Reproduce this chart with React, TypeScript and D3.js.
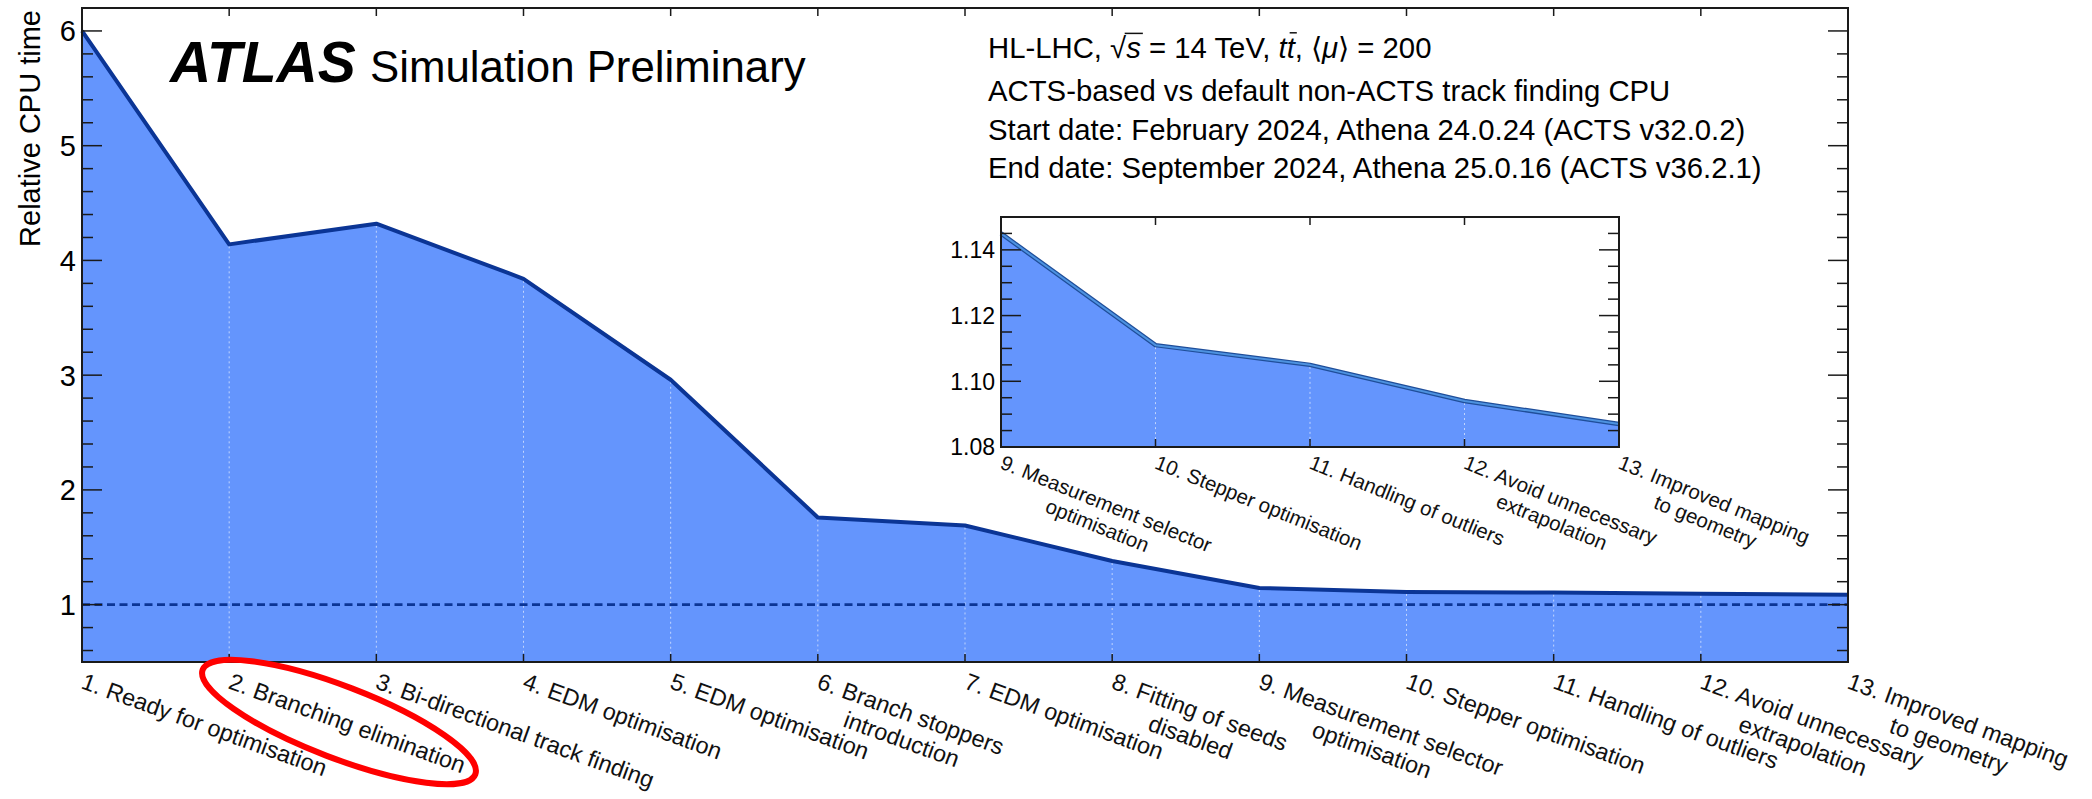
import React, { useRef, useEffect } from 'react';
import * as d3 from 'd3';

const W = 2092;
const H = 799;
const FONT = "'Liberation Sans', Arial, Helvetica, sans-serif";

// optimisation steps (x categories)
const steps = [
  '1. Ready for optimisation',
  '2. Branching elimination',
  '3. Bi-directional track finding',
  '4. EDM optimisation',
  '5. EDM optimisation',
  '6. Branch stoppers\nintroduction',
  '7. EDM optimisation',
  '8. Fitting of seeds\ndisabled',
  '9. Measurement selector\noptimisation',
  '10. Stepper optimisation',
  '11. Handling of outliers',
  '12. Avoid unnecessary\nextrapolation',
  '13. Improved mapping\nto geometry',
];

// relative CPU time, ACTS vs default
const cpuTime = [6.0, 4.14, 4.32, 3.84, 2.96, 1.76, 1.69, 1.38, 1.145, 1.111, 1.105, 1.094, 1.087];

// zoomed inset: last five steps
const insetSteps = steps.slice(8);
const insetTime = cpuTime.slice(8);

const yTicks = [1, 2, 3, 4, 5, 6];
const insetTicks = [1.08, 1.1, 1.12, 1.14];

const infoLines = [
  'ACTS-based vs default non-ACTS track finding CPU',
  'Start date: February 2024, Athena 24.0.24 (ACTS v32.0.2)',
  'End date: September 2024, Athena 25.0.16 (ACTS v36.2.1)',
];

const FILL = '#6495fd';
const LINE = '#0b3595';

function drawStepLabels(g, labels, x, y0, fontSize, angle) {
  labels.forEach(lab => {
    const [l1, l2] = lab.split('\n');
    const t = g.append('g')
      .attr('transform', `translate(${x(lab) - 2},${y0}) rotate(${angle})`)
      .attr('font-size', fontSize);
    const t1 = t.append('text').attr('x', 0).attr('y', 0).text(l1);
    if (l2) {
      const w1 = t1.node().getComputedTextLength();
      t.append('text')
        .attr('x', w1 / 2)
        .attr('y', fontSize * 1.15)
        .attr('text-anchor', 'middle')
        .text(l2);
    }
  });
}

function drawYTicks(g, y, left, right, majors, minors, fmt, fontSize) {
  majors.forEach(v => {
    g.append('line').attr('x1', left).attr('x2', left + 20).attr('y1', y(v)).attr('y2', y(v));
    g.append('line').attr('x1', right).attr('x2', right - 20).attr('y1', y(v)).attr('y2', y(v));
    g.append('text')
      .attr('x', left - 6)
      .attr('y', y(v) + fontSize * 0.36)
      .attr('text-anchor', 'end')
      .attr('font-size', fontSize)
      .attr('stroke', 'none')
      .text(fmt(v));
  });
  minors.forEach(v => {
    g.append('line').attr('x1', left).attr('x2', left + 11).attr('y1', y(v)).attr('y2', y(v));
    g.append('line').attr('x1', right).attr('x2', right - 11).attr('y1', y(v)).attr('y2', y(v));
  });
}

export default function App() {
  const svgRef = useRef(null);

  useEffect(() => {
    const svg = d3.select(svgRef.current);
    svg.selectAll('*').remove();
    svg.attr('font-family', FONT);

    // ---------- main plot ----------
    const M = { left: 82, right: 1848, top: 8, bottom: 662 };
    const x = d3.scalePoint().domain(steps).range([M.left, M.right]);
    const y = d3.scaleLinear().domain([0.5, 6.2]).range([M.bottom, M.top]);

    const area = d3.area()
      .x((d, i) => x(steps[i]))
      .y0(y(0.5))
      .y1(d => y(d));
    const line = d3.line()
      .x((d, i) => x(steps[i]))
      .y(d => y(d));

    svg.append('path').attr('d', area(cpuTime)).attr('fill', FILL);

    // dotted guides under the curve
    cpuTime.forEach((v, i) => {
      if (i === 0 || i === cpuTime.length - 1) return;
      svg.append('line')
        .attr('x1', x(steps[i])).attr('x2', x(steps[i]))
        .attr('y1', y(v) + 2).attr('y2', M.bottom)
        .attr('stroke', 'rgba(255,255,255,0.6)')
        .attr('stroke-width', 1)
        .attr('stroke-dasharray', '2,3');
    });

    svg.append('line')
      .attr('x1', M.left).attr('x2', M.right)
      .attr('y1', y(1)).attr('y2', y(1))
      .attr('stroke', LINE)
      .attr('stroke-width', 2.6)
      .attr('stroke-dasharray', '8,4.5');

    svg.append('path')
      .attr('d', line(cpuTime))
      .attr('fill', 'none')
      .attr('stroke', LINE)
      .attr('stroke-width', 4)
      .attr('stroke-linejoin', 'round');

    const axes = svg.append('g').attr('stroke', '#1a1a1a').attr('stroke-width', 1.5);
    steps.slice(1, -1).forEach(s => {
      axes.append('line').attr('x1', x(s)).attr('x2', x(s)).attr('y1', M.bottom).attr('y2', M.bottom - 8);
      axes.append('line').attr('x1', x(s)).attr('x2', x(s)).attr('y1', M.top).attr('y2', M.top + 8);
    });
    const minorMain = d3.range(0.6, 6.21, 0.2).filter(v => Math.abs(v - Math.round(v)) > 0.01);
    drawYTicks(axes, y, M.left, M.right, yTicks, minorMain, d3.format('d'), 29);
    axes.append('rect')
      .attr('x', M.left).attr('y', M.top)
      .attr('width', M.right - M.left).attr('height', M.bottom - M.top)
      .attr('fill', 'none').attr('stroke-width', 2);

    drawStepLabels(svg.append('g').attr('fill', '#111'), steps, x, M.bottom + 26, 23.4, 20);

    svg.append('text')
      .attr('transform', `translate(40,10) rotate(-90)`)
      .attr('text-anchor', 'end')
      .attr('font-size', 29)
      .text('Relative CPU time');

    // ---------- labels ----------
    svg.append('text')
      .attr('x', 170).attr('y', 82)
      .attr('font-size', 57).attr('font-weight', 'bold').attr('font-style', 'italic')
      .text('ATLAS');
    svg.append('text')
      .attr('x', 370).attr('y', 82)
      .attr('font-size', 43.8)
      .text('Simulation Preliminary');

    const FS = 29.3;
    const t0 = svg.append('text').attr('x', 988).attr('y', 58).attr('font-size', FS);
    t0.append('tspan').text('HL-LHC, ');
    t0.append('tspan').text('\u221A');
    t0.append('tspan').attr('font-style', 'italic').text('s');
    t0.append('tspan').text(' = 14 TeV, ');
    t0.append('tspan').attr('font-style', 'italic').text('tt');
    t0.append('tspan').text(', \u27E8');
    t0.append('tspan').attr('font-style', 'italic').text('\u03BC');
    t0.append('tspan').text('\u27E9 = 200');
    const tn = t0.node();
    const full = 'HL-LHC, \u221As = 14 TeV, tt, \u27E8\u03BC\u27E9 = 200';
    const iRoot = full.indexOf('\u221A');
    const iS = iRoot + 1;
    const iT = full.indexOf('tt') + 1;
    const rootEnd = tn.getEndPositionOfChar(iRoot).x;
    const sEnd = tn.getEndPositionOfChar(iS).x;
    svg.append('line')
      .attr('x1', rootEnd - 1.5).attr('x2', sEnd + 2)
      .attr('y1', 58 - FS * 0.84).attr('y2', 58 - FS * 0.84)
      .attr('stroke', '#111').attr('stroke-width', 1.5);
    const tS = tn.getStartPositionOfChar(iT).x;
    const tE = tn.getEndPositionOfChar(iT).x;
    svg.append('line')
      .attr('x1', tS + 3).attr('x2', tE + 2)
      .attr('y1', 58 - FS * 0.86).attr('y2', 58 - FS * 0.86)
      .attr('stroke', '#111').attr('stroke-width', 1.5);

    const infoY = [101, 140, 178];
    infoLines.forEach((s, i) => {
      svg.append('text').attr('x', 988).attr('y', infoY[i]).attr('font-size', FS).text(s);
    });

    // ---------- inset ----------
    const I = { left: 1001, right: 1619, top: 217, bottom: 447 };
    const xi = d3.scalePoint().domain(insetSteps).range([I.left, I.right]);
    const yi = d3.scaleLinear().domain([1.08, 1.15]).range([I.bottom, I.top]);

    svg.append('rect')
      .attr('x', I.left).attr('y', I.top)
      .attr('width', I.right - I.left).attr('height', I.bottom - I.top)
      .attr('fill', '#fff');

    const areaI = d3.area()
      .x((d, i) => xi(insetSteps[i]))
      .y0(yi(1.08))
      .y1(d => yi(d));
    const lineI = d3.line()
      .x((d, i) => xi(insetSteps[i]))
      .y(d => yi(d));

    svg.append('path').attr('d', areaI(insetTime)).attr('fill', FILL);
    insetTime.forEach((v, i) => {
      if (i === 0 || i === insetTime.length - 1) return;
      svg.append('line')
        .attr('x1', xi(insetSteps[i])).attr('x2', xi(insetSteps[i]))
        .attr('y1', yi(v) + 2).attr('y2', I.bottom)
        .attr('stroke', 'rgba(255,255,255,0.6)')
        .attr('stroke-width', 1)
        .attr('stroke-dasharray', '2,3');
    });
    svg.append('path')
      .attr('d', lineI(insetTime))
      .attr('fill', 'none').attr('stroke', '#1f4e9a').attr('stroke-width', 4.5)
      .attr('stroke-linejoin', 'round');
    svg.append('path')
      .attr('d', lineI(insetTime))
      .attr('fill', 'none').attr('stroke', '#4d92e0').attr('stroke-width', 2)
      .attr('stroke-linejoin', 'round');

    const axI = svg.append('g').attr('stroke', '#1a1a1a').attr('stroke-width', 1.5);
    insetSteps.slice(1, -1).forEach(s => {
      axI.append('line').attr('x1', xi(s)).attr('x2', xi(s)).attr('y1', I.bottom).attr('y2', I.bottom - 8);
      axI.append('line').attr('x1', xi(s)).attr('x2', xi(s)).attr('y1', I.top).attr('y2', I.top + 8);
    });
    const minorI = d3.range(1.085, 1.1501, 0.005).filter(v => Math.abs(v * 50 - Math.round(v * 50)) > 0.01);
    drawYTicks(axI, yi, I.left, I.right, insetTicks, minorI, d3.format('.2f'), 23);
    axI.append('rect')
      .attr('x', I.left).attr('y', I.top)
      .attr('width', I.right - I.left).attr('height', I.bottom - I.top)
      .attr('fill', 'none').attr('stroke-width', 2);

    drawStepLabels(svg.append('g').attr('fill', '#111'), insetSteps, xi, I.bottom + 21, 20.5, 22);

    // highlight
    svg.append('ellipse')
      .attr('transform', 'translate(339,722) rotate(21)')
      .attr('rx', 146).attr('ry', 36)
      .attr('fill', 'none')
      .attr('stroke', '#ff0000')
      .attr('stroke-width', 6);
  }, []);

  return (
    <svg
      ref={svgRef}
      width={W}
      height={H}
      style={{ position: 'absolute', left: 0, top: 0, display: 'block', background: '#fff' }}
    />
  );
}
